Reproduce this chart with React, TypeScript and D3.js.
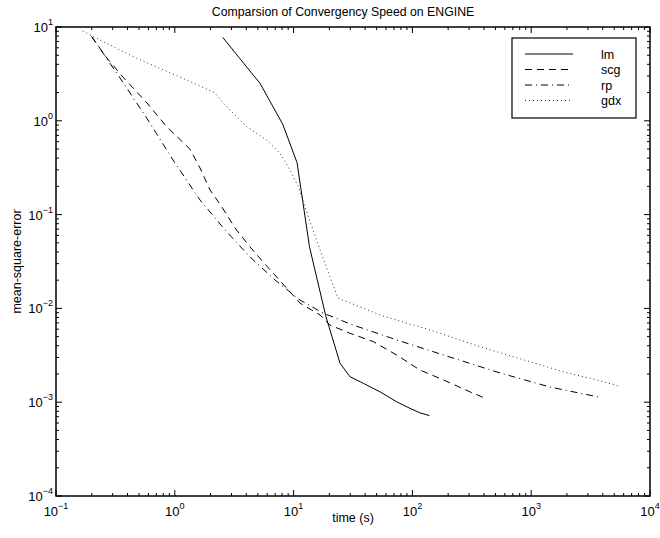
import React from "react";
import * as d3 from "d3";

// ---- data (time in s, mean-square-error) ----
const lmTime = [2.53, 5.21, 8.09, 10.7, 13.6, 18.7, 24.6, 29.8, 38.6, 53.4, 73.8, 95.4, 115.9, 138.8];
const lmMse = [7.76, 2.51, 0.924, 0.357, 0.0455, 0.0082, 0.0026, 0.00187, 0.00159, 0.00129, 0.00101, 0.00086, 0.00077, 0.00072];

const scgTime = [0.2, 0.264, 0.366, 0.583, 0.859, 1.34, 1.63, 1.98, 2.5, 3.21, 4.3, 5.74, 7.98, 11.3, 16.7, 20.2, 29.8, 46.9, 73.8, 115.9, 182, 305, 391];
const scgMse = [7.88, 4.79, 2.93, 1.55, 0.859, 0.5, 0.314, 0.183, 0.12, 0.072, 0.0452, 0.0297, 0.0187, 0.0114, 0.0085, 0.00665, 0.00543, 0.00442, 0.00318, 0.0022, 0.00173, 0.00129, 0.00113];

const rpTime = [0.2, 0.346, 0.58, 0.966, 1.63, 2.65, 4.3, 6.97, 11.3, 17.7, 29.8, 78.6, 207, 546, 1439, 3650];
const rpMse = [7.88, 2.86, 1.07, 0.382, 0.143, 0.0686, 0.0353, 0.0201, 0.0123, 0.00893, 0.00683, 0.00449, 0.00303, 0.00205, 0.00145, 0.00114];

const gdxTime = [0.168, 0.234, 0.478, 1.26, 2.18, 2.56, 4.03, 5.94, 7.69, 9.33, 10.96, 13.3, 16.7, 20.2, 23.6, 36.2, 53.3, 140.6, 370, 977, 1862, 3559, 5410];
const gdxMse = [9.06, 7.26, 4.64, 2.72, 1.98, 1.54, 0.865, 0.624, 0.451, 0.299, 0.198, 0.095, 0.042, 0.0218, 0.0129, 0.0104, 0.0085, 0.00589, 0.00391, 0.0027, 0.00211, 0.00173, 0.00149];

const seriesNames = ["lm", "scg", "rp", "gdx"];
const xDecades = [-1, 0, 1, 2, 3, 4];
const yDecades = [-4, -3, -2, -1, 0, 1];
const minorSteps = [2, 3, 4, 5, 6, 7, 8, 9];

const titleText = "Comparsion of Convergency Speed on ENGINE";
const xLabelText = "time (s)";
const yLabelText = "mean-square-error";

const W = 660;
const H = 538;
const L = 56, R = 650, T = 27, B = 496;
const FONT = "'Liberation Sans', Arial, Helvetica, sans-serif";

const sup = (n: number) => (n < 0 ? "\u2212" + Math.abs(n) : String(n));

export default function App() {
  const x = d3.scaleLog().domain([1e-1, 1e4]).range([L, R]);
  const y = d3.scaleLog().domain([1e-4, 1e1]).range([B, T]);
  const line = d3
    .line<[number, number]>()
    .x((d) => x(d[0]))
    .y((d) => y(d[1]));

  const series = [
    { name: seriesNames[0], t: lmTime, v: lmMse, dash: undefined as string | undefined, color: "#000" },
    { name: seriesNames[1], t: scgTime, v: scgMse, dash: "7,5", color: "#000" },
    { name: seriesNames[2], t: rpTime, v: rpMse, dash: "7,4,1,4", color: "#000" },
    { name: seriesNames[3], t: gdxTime, v: gdxMse, dash: "1,3", color: "#333" },
  ];

  const xMinor: number[] = [];
  xDecades.slice(0, -1).forEach((d) => minorSteps.forEach((k) => xMinor.push(k * Math.pow(10, d))));
  const yMinor: number[] = [];
  yDecades.slice(0, -1).forEach((d) => minorSteps.forEach((k) => yMinor.push(k * Math.pow(10, d))));

  const major = 6;
  const minor = 3;

  const legX = 512, legY = 38, legW = 124, legH = 80;
  const rowY = (i: number) => legY + 16 + i * 15.5;

  return (
    <svg width={W} height={H} style={{ position: "absolute", left: 0, top: 0, background: "#fff" }} fontFamily={FONT}>
      <rect x={0} y={0} width={W} height={H} fill="#fff" />
      {/* ticks */}
      <g stroke="#000" strokeWidth={1}>
        {xDecades.map((d) => {
          const px = x(Math.pow(10, d));
          return (
            <g key={"xM" + d}>
              <line x1={px} x2={px} y1={B} y2={B - major} />
              <line x1={px} x2={px} y1={T} y2={T + major} />
            </g>
          );
        })}
        {xMinor.map((v, i) => {
          const px = x(v);
          return (
            <g key={"xm" + i}>
              <line x1={px} x2={px} y1={B} y2={B - minor} />
              <line x1={px} x2={px} y1={T} y2={T + minor} />
            </g>
          );
        })}
        {yDecades.map((d) => {
          const py = y(Math.pow(10, d));
          return (
            <g key={"yM" + d}>
              <line x1={L} x2={L + major} y1={py} y2={py} />
              <line x1={R} x2={R - major} y1={py} y2={py} />
            </g>
          );
        })}
        {yMinor.map((v, i) => {
          const py = y(v);
          return (
            <g key={"ym" + i}>
              <line x1={L} x2={L + minor} y1={py} y2={py} />
              <line x1={R} x2={R - minor} y1={py} y2={py} />
            </g>
          );
        })}
      </g>
      {/* series */}
      <g fill="none">
        {series.map((s) => (
          <path
            key={s.name}
            d={line(s.t.map((t, i) => [t, s.v[i]] as [number, number])) || ""}
            stroke={s.color}
            strokeWidth={1}
            strokeDasharray={s.dash}
          />
        ))}
      </g>
      {/* frame */}
      <rect x={L} y={T} width={R - L} height={B - T} fill="none" stroke="#000" strokeWidth={1.5} />
      {/* tick labels */}
      <g fontSize={13} fill="#000">
        {xDecades.map((d) => (
          <text key={"xl" + d} x={x(Math.pow(10, d))} y={B + 20} textAnchor="middle">
            <tspan>10</tspan>
            <tspan fontSize={9} dy={-7}>{sup(d)}</tspan>
          </text>
        ))}
        {yDecades.map((d) => (
          <text key={"yl" + d} x={L - 3} y={y(Math.pow(10, d)) + 5} textAnchor="end">
            <tspan>10</tspan>
            <tspan fontSize={9} dy={-7}>{sup(d)}</tspan>
          </text>
        ))}
      </g>
      {/* axis labels & title */}
      <text x={(L + R) / 2} y={522} textAnchor="middle" fontSize={12.5}>{xLabelText}</text>
      <text transform={`translate(21,${(T + B) / 2}) rotate(-90)`} textAnchor="middle" fontSize={12.5}>{yLabelText}</text>
      <text x={343} y={16} textAnchor="middle" fontSize={12.3}>{titleText}</text>
      {/* legend */}
      <rect x={legX} y={legY} width={legW} height={legH} fill="#fff" stroke="#000" strokeWidth={1.2} />
      {series.map((s, i) => (
        <g key={"lg" + s.name}>
          <line x1={525} x2={573} y1={rowY(i)} y2={rowY(i)} stroke={s.color} strokeWidth={1} strokeDasharray={s.dash} />
          <text x={601} y={rowY(i) + 4.5} fontSize={12.5}>{s.name}</text>
        </g>
      ))}
    </svg>
  );
}
